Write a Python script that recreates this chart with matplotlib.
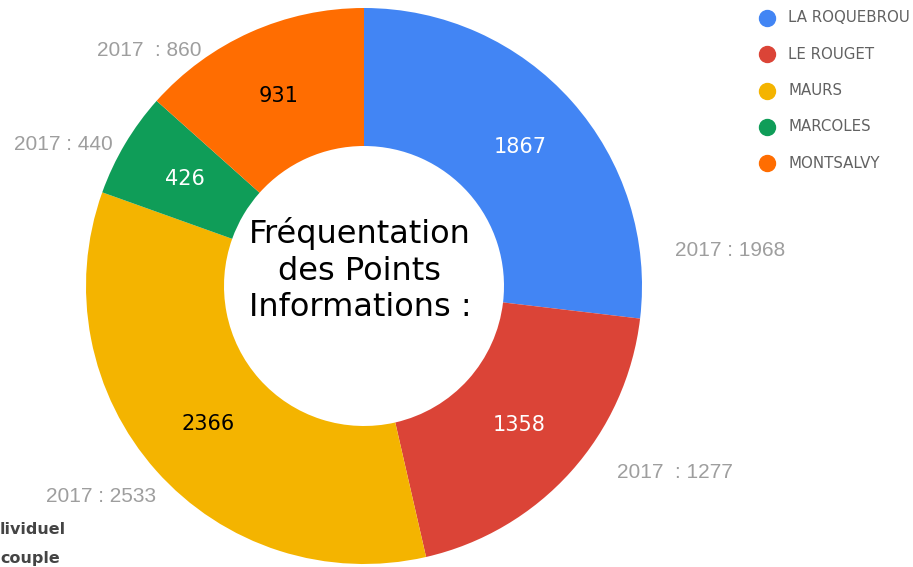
import matplotlib
matplotlib.use('Agg')
from matplotlib import pyplot as plt

W, H = 913, 567

# data
communes = ['LA ROQUEBROU', 'LE ROUGET', 'MAURS', 'MARCOLES', 'MONTSALVY']
visits = [1867, 1358, 2366, 426, 931]
visits_2017 = [1968, 1277, 2533, 440, 860]
labels_2017 = ['2017 : 1968', '2017  : 1277', '2017 : 2533', '2017 : 440', '2017  : 860']
colors = ['#4285f4', '#db4437', '#f4b400', '#0f9d58', '#ff6d01']
value_colors = ['white', 'white', 'black', 'white', 'black']

fig = plt.figure(figsize=(W / 100, H / 100), dpi=100)
ax = fig.add_axes([0, 0, 1, 1])

cx, cy, r = 364, H - 286, 278
wedges, _, autotexts = ax.pie(visits, colors=colors, startangle=90, counterclock=False,
                              center=(cx, cy), radius=r, frame=True,
                              wedgeprops=dict(width=r - 140, linewidth=0),
                              autopct=lambda p: '', pctdistance=0.75)
for t, v, c in zip(autotexts, visits, value_colors):
    t.set_text(str(v))
    t.set_color(c)
    t.set_fontsize(15)
    t.set_family('DejaVu Sans')
ax.set_xlim(0, W)
ax.set_ylim(0, H)
ax.set_aspect('equal')
ax.axis('off')

# previous year labels around the donut
pos_2017 = [(730, 251), (675, 472), (101, 497), (63, 144), (149, 50)]
for txt, (x, y) in zip(labels_2017, pos_2017):
    ax.text(x, H - y, txt, ha='center', va='center', fontsize=15,
            family='Liberation Sans', color='#9e9e9e')

# center title
ax.text(cx - 4, H - 270, 'Fréquentation\ndes Points\nInformations :', ha='center', va='center',
        fontsize=23, color='black', linespacing=1.22, family='DejaVu Sans')

# legend
for i, (name, c) in enumerate(zip(communes, colors)):
    y = H - (18 + i * 36.3)
    ax.plot(767, y, 'o', ms=11.5, color=c, clip_on=False)
    ax.text(788, y, name, ha='left', va='center', fontsize=10.8, color='#616161',
            family='DejaVu Sans', clip_on=False)

# partly hidden text at bottom left
ax.text(0, H - 530, 'lividuel', ha='left', va='center', fontsize=11.5,
        fontweight='bold', color='#444444', family='DejaVu Sans')
ax.text(0, H - 558, 'couple', ha='left', va='center', fontsize=11.5,
        fontweight='bold', color='#444444', family='DejaVu Sans')

fig.savefig('out.png', dpi=100)
